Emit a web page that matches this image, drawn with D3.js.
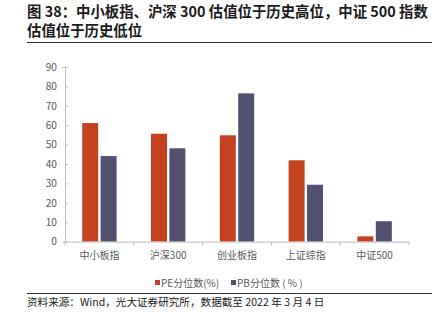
<!DOCTYPE html>
<html><head><meta charset="utf-8">
<script src="https://cdn.jsdelivr.net/npm/d3@7"></script>
<style>body{margin:0;background:#fff}svg{display:block}</style>
</head><body>
<svg id="c" width="435" height="323"></svg>
<script>
const categories = ["中小板指","沪深300","创业板指","上证综指","中证500"];
const seriesNames = ["PE分位数(%)","PB分位数 ( % )"];
const peValues = [61.1, 55.6, 54.8, 41.9, 2.7];
const pbValues = [44.1, 48.1, 76.4, 29.3, 10.5];
const yTicks = [0,10,20,30,40,50,60,70,80,90];
const colors = ["#C4411F","#525170"];

const svg = d3.select("#c");
const font = "'Noto Sans CJK SC','Noto Sans',sans-serif";
const titleLines = ["图 38：中小板指、沪深 300 估值位于历史高位，中证 500 指数","估值位于历史低位"];
svg.selectAll("text.title").data(titleLines).join("text")
  .attr("x",27).attr("y",(d,i)=>17+i*19)
  .attr("font-family",font).attr("font-size",14.4).attr("font-weight","bold").attr("fill","#1a1a1a")
  .text(d=>d);
svg.append("line").attr("x1",27).attr("x2",432).attr("y1",42.5).attr("y2",42.5).attr("stroke","#333").attr("stroke-width",1);

const x0 = d3.scaleBand().domain(categories).range([65,409]).paddingInner(0.5).paddingOuter(0.25);
const x1 = d3.scaleBand().domain([0,1]).range([0,x0.bandwidth()]).paddingInner(0.13);
const y = d3.scaleLinear().domain([0,90]).range([241.6,67]);

// y axis
const ya = svg.append("g").attr("transform","translate(65,0)")
  .call(d3.axisLeft(y).tickValues(yTicks).tickSize(3).tickPadding(5));
ya.select(".domain").attr("stroke","#BFBFBF");
ya.selectAll(".tick line").attr("stroke","#BFBFBF").attr("x2",3).attr("x1",0);
ya.selectAll("text").attr("font-family",font).attr("font-size",10.2).attr("fill","#595959");

const data = categories.map((c,i)=>({c, vals:[peValues[i], pbValues[i]]}));
const g = svg.append("g");
g.selectAll("g").data(data).join("g")
  .attr("transform",d=>`translate(${x0(d.c)},0)`)
  .selectAll("rect").data(d=>d.vals.map((v,k)=>({v,k}))).join("rect")
  .attr("x",d=>x1(d.k)).attr("width",x1.bandwidth())
  .attr("y",d=>y(d.v)).attr("height",d=>y(0)-y(d.v))
  .attr("fill",d=>colors[d.k]);

// x axis
const xa = svg.append("g").attr("transform",`translate(0,${y(0)})`)
  .call(d3.axisBottom(x0).tickSize(0).tickPadding(10));
xa.select(".domain").attr("stroke","#BFBFBF");
xa.selectAll("text").attr("font-family",font).attr("font-size",10).attr("fill","#595959");
const step = x0.step();
const bounds = d3.range(categories.length+1).map(i=>65+i*step);
xa.selectAll("line.sep").data(bounds).join("line").attr("class","sep")
  .attr("x1",d=>d).attr("x2",d=>d).attr("y1",0).attr("y2",4).attr("stroke","#BFBFBF");

// legend
const legX = [155,231];
const lg = svg.selectAll("g.leg").data(seriesNames).join("g").attr("class","leg")
  .attr("transform",(d,i)=>`translate(${legX[i]},283)`);
lg.append("rect").attr("x",0).attr("y",-3).attr("width",5).attr("height",5).attr("fill",(d,i)=>colors[i]);
lg.append("text").attr("x",6).attr("y",0).attr("dy","0.35em").attr("font-family",font).attr("font-size",10).attr("fill","#595959").text(d=>d);

svg.append("line").attr("x1",27).attr("x2",432).attr("y1",293.5).attr("y2",293.5).attr("stroke","#333").attr("stroke-width",1);
svg.append("text").attr("x",27).attr("y",306).attr("font-family",font).attr("font-size",10.6).attr("fill","#1a1a1a")
  .text("资料来源：Wind，光大证券研究所，数据截至 2022 年 3 月 4 日");
</script>
</body></html>
